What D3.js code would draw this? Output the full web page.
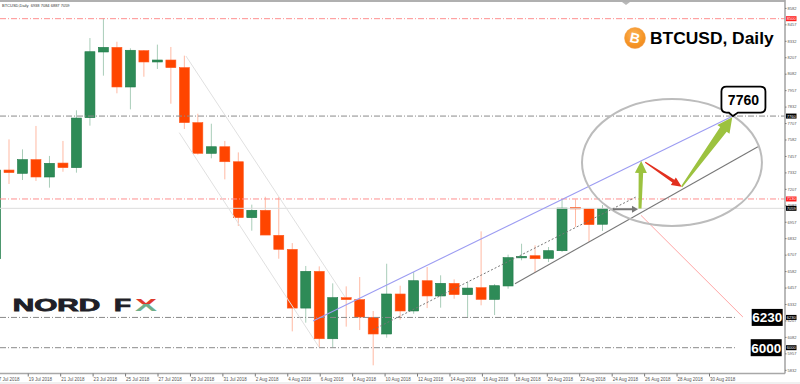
<!DOCTYPE html>
<html><head><meta charset="utf-8">
<script src="https://cdn.jsdelivr.net/npm/d3@7/dist/d3.min.js"></script>
<style>html,body{margin:0;padding:0;background:#fff;overflow:hidden}svg{display:block}</style>
</head><body><svg id="c" width="800" height="384"></svg>
<script>
const symbolText = "BTCUSD,Daily  6938 7084 6887 7059";
const chartTitle = "BTCUSD, Daily";
const barIndex = d3.range(-1, 45);
const opens  = [6676,7350,7325,7429,7297,7403,7368,7748,8247,8282,7981,8257,8171,8186,8128,7710,7477,7527,7413,6988,7044,6854,6747,6301,6580,6068,6380,6365,6231,6104,6408,6279,6509,6393,6489,6403,6456,6367,6469,6684,6699,6679,6737,7066,7056,6938];
const highs  = [7380,7583,7507,7685,7457,7571,7804,8353,8503,8325,8275,8262,8303,8285,8219,7778,7702,7571,7484,7087,7147,7145,6795,6621,6618,6489,6466,6537,6279,6638,6471,6575,6613,6550,6519,6499,6884,6484,6707,6790,6778,6765,7127,7127,7056,7084];
const lows   = [6640,7244,7274,7267,7216,7337,7330,7687,8067,7933,7811,8059,8118,7854,7662,7467,7439,7279,6925,6889,6856,6676,6124,6190,6005,6005,6160,6134,5866,6076,6213,6258,6301,6304,6372,6226,6322,6248,6448,6664,6570,6651,6727,6917,6803,6887];
const closes = [7350,7330,7429,7297,7401,7368,7745,8249,8282,7981,8260,8171,8186,8128,7710,7477,7527,7413,6988,7044,6856,6747,6301,6580,6068,6380,6365,6233,6104,6408,6279,6509,6393,6489,6403,6453,6367,6471,6684,6694,6676,6737,7061,7056,6935,7059];

const priceTicks = [8582,8457,8332,8207,8082,7957,7832,7707,7582,7457,7332,7207,7082,6957,6832,6707,6582,6457,6332,6207,6082,5957,5832];
const dateTicks = ["2018-07-17","2018-07-19","2018-07-21","2018-07-23","2018-07-25","2018-07-27","2018-07-29","2018-07-31","2018-08-02","2018-08-04","2018-08-06","2018-08-08","2018-08-10","2018-08-12","2018-08-14","2018-08-16","2018-08-18","2018-08-20","2018-08-22","2018-08-24","2018-08-26","2018-08-28","2018-08-30"];

const levelPrices = [8500,7760,7130,7059,6230,6000];
const levelKinds  = ["red","gray","red","plain","gray","gray"];
const levelEnds   = [null,null,null,null,53.9,53.9];
const badgeKinds  = ["red","black","red","black","black","black"];

// [bar index, price] pairs
const channelUpper = [[13.12,8216],[24.91,6385]];
const channelLower = [[12.62,7634],[22.98,6005]];
const blueLine   = [[22.54,6203],[53.67,7760]];
const dottedLine = [[27.0,6137],[46.48,7145]];
const trendLine  = [[37.51,6486],[55.52,7527]];
const downLine   = [[46.85,7006],[54.41,6233]];
const grayArrow  = [[44.77,7052],[46.63,7052]];
const greenArrow1 = [[46.78,7058],[46.87,7419]];
const redArrow    = [[47.17,7409],[49.87,7223]];
const greenArrow2 = [[49.87,7223],[53.62,7751]];
const ellipseCentre = [49.15,7407];
const ellipseEdge = [55.82,6925];
const targetLabel = "7760";
const supportLabels = ["6230","6000"];

const svg = d3.select("#c");
const W = 800, H = 384, plotR = 785, plotB = 373.5;
const x = d3.scaleLinear().domain([0,44]).range([9,602.5]);
const y = d3.scaleLinear().domain([8642,5832]).range([0,369.8]);
const parse = d3.utcParse("%Y-%m-%d");
const fmt = d3.utcFormat("%-d %b %Y");
const xDate = d3.scaleUtc().domain([parse(dateTicks[0]),parse(dateTicks[22])]).range([-4.7,709]);

const defs = svg.append("defs");
defs.append("clipPath").attr("id","plot").append("rect").attr("width",plotR).attr("height",plotB);
const rg = defs.append("radialGradient").attr("id","coin").attr("cx","45%").attr("cy","35%").attr("r","70%");
rg.append("stop").attr("offset","0").attr("stop-color","#fbb45c");
rg.append("stop").attr("offset","0.7").attr("stop-color","#f59322");
rg.append("stop").attr("offset","1").attr("stop-color","#ee8a2a");
const xg = defs.append("linearGradient").attr("id","xmark").attr("x1",0).attr("y1",0).attr("x2",0).attr("y2",1);
xg.append("stop").attr("offset","0.46").attr("stop-color","#de3a2c");
xg.append("stop").attr("offset","0.46").attr("stop-color","#6fae8a");

svg.append("rect").attr("width",W).attr("height",H).attr("fill","#fff");
svg.append("rect").attr("y",382).attr("width",W).attr("height",2).attr("fill","#f0f0f0");

const plot = svg.append("g").attr("clip-path","url(#plot)");

// candles
const candles = barIndex.map((i,k)=>({i,o:opens[k],h:highs[k],l:lows[k],c:closes[k]}));
const up = d=>d.c>=d.o;
const cg = plot.append("g");
cg.selectAll("line.w").data(candles).join("line").attr("class","w")
  .attr("x1",d=>x(d.i)).attr("x2",d=>x(d.i)).attr("y1",d=>y(d.h)).attr("y2",d=>y(d.l))
  .attr("stroke",d=>up(d)?"#a9cdb9":"#ffb9a3").attr("stroke-width",1);
cg.selectAll("rect.b").data(candles).join("rect").attr("class","b")
  .attr("x",d=>x(d.i)-5).attr("width",10)
  .attr("y",d=>y(Math.max(d.o,d.c))).attr("height",d=>Math.max(1.5,Math.abs(y(d.o)-y(d.c))))
  .attr("fill",d=>up(d)?"#2e8b57":"#ff4500")
  .attr("stroke",d=>up(d)?"#1f7a48":"#ff5a20").attr("stroke-width",0.6);

// levels
const levelColor = {red:"#ff8f8f",gray:"#8a8a8a",plain:"#dcdcdc"};
plot.selectAll("line.lv").data(levelPrices).join("line").attr("class","lv")
  .attr("x1",0).attr("x2",(d,k)=>levelEnds[k]===null?plotR:x(levelEnds[k]))
  .attr("y1",d=>y(d)).attr("y2",d=>y(d))
  .attr("stroke",(d,k)=>levelColor[levelKinds[k]]).attr("stroke-width",1)
  .attr("stroke-dasharray",(d,k)=>levelKinds[k]==="plain"?null:"6,2,1,2");

// trend lines
function seg(p,color,w,dash){
  plot.append("line").attr("x1",x(p[0][0])).attr("y1",y(p[0][1])).attr("x2",x(p[1][0])).attr("y2",y(p[1][1]))
    .attr("stroke",color).attr("stroke-width",w).attr("stroke-dasharray",dash||null);
}
seg(channelUpper,"#e0e0e0",1);
seg(channelLower,"#e0e0e0",1);
seg(blueLine,"#9c9cf2",1.1);
seg(dottedLine,"#777",1,"2,2");
seg(trendLine,"#777",1.1);
seg(downLine,"#ffa5a5",1);

// ellipse
plot.append("ellipse").attr("cx",x(ellipseCentre[0])).attr("cy",y(ellipseCentre[1]))
  .attr("rx",x(ellipseEdge[0])-x(ellipseCentre[0])).attr("ry",y(ellipseEdge[1])-y(ellipseCentre[1]))
  .attr("fill","none").attr("stroke","#bcbcbc").attr("stroke-width",2);

// arrows
function arrow(p,color,w0,w1,hw,hl){
  const x0=x(p[0][0]),y0=y(p[0][1]),x1=x(p[1][0]),y1=y(p[1][1]);
  const L=Math.hypot(x1-x0,y1-y0),ux=(x1-x0)/L,uy=(y1-y0)/L,nx=-uy,ny=ux;
  const bx=x1-ux*hl,by=y1-uy*hl;
  const pts=[[x0+nx*w0/2,y0+ny*w0/2],[bx+nx*w1/2,by+ny*w1/2],[bx+nx*hw/2,by+ny*hw/2],[x1,y1],
             [bx-nx*hw/2,by-ny*hw/2],[bx-nx*w1/2,by-ny*w1/2],[x0-nx*w0/2,y0-ny*w0/2]];
  plot.append("path").attr("d",d3.line()(pts)+"Z").attr("fill",color);
}
arrow(grayArrow,"#777",2,2,7,6);
arrow(greenArrow1,"#9cc23f",3,4.5,12,12);
arrow(redArrow,"#e2301f",1.2,3.5,9,10);
arrow(greenArrow2,"#9cc23f",1.5,8,15,15);

// frame top
svg.append("rect").attr("width",plotR).attr("height",2).attr("fill","#b0b0b0");
svg.append("path").attr("d",d3.line()([[622,2],[630,2],[626,5]])+"Z").attr("fill","#b8b8b8");

// axes
const yAxis = d3.axisRight(y).tickValues(priceTicks).tickSize(1.5).tickPadding(1).tickFormat(d3.format("d"));
const ya = svg.append("g").attr("transform",`translate(${plotR},0)`).call(yAxis);
ya.select(".domain").attr("d",`M0,0V${plotB}`).attr("stroke","#a8a8a8").attr("stroke-width",1.6);
ya.selectAll(".tick line").attr("stroke","#777");
ya.selectAll("text").attr("font-family","Liberation Sans").attr("font-size",4).attr("fill","#555");

const xAxis = d3.axisBottom(xDate).tickValues(dateTicks.map(parse)).tickSize(3).tickPadding(1).tickFormat(fmt);
const xa = svg.append("g").attr("transform",`translate(0,${plotB})`).call(xAxis);
xa.select(".domain").attr("d",`M0,0H${plotR}`).attr("stroke","#a8a8a8").attr("stroke-width",1.6);
xa.selectAll(".tick line").attr("stroke","#777");
xa.selectAll("text").attr("text-anchor","start").attr("dx",0.5).attr("font-family","Liberation Sans").attr("font-size",4.5).attr("fill","#555");

// price badges
const badges = svg.append("g").selectAll("g").data(levelPrices).join("g")
  .attr("transform",d=>`translate(${plotR+1},${y(d)})`);
badges.append("rect").attr("x",0).attr("y",-2.5).attr("width",10.5).attr("height",5)
  .attr("fill",(d,k)=>badgeKinds[k]==="red"?"#ff2020":"#000");
badges.append("text").attr("x",5.2).attr("y",1.5).attr("text-anchor","middle")
  .attr("font-family","Liberation Sans").attr("font-size",4).attr("fill","#fff").text(d=>d);

// info text
svg.append("text").attr("x",2).attr("y",7).attr("font-family","Liberation Sans").attr("font-size",4)
  .attr("fill","#333").attr("xml:space","preserve").text(symbolText);

// title + coin
svg.append("circle").attr("cx",635).attr("cy",38).attr("r",10.5).attr("fill","url(#coin)").attr("stroke","#f3a04a").attr("stroke-width",.5);
svg.append("text").attr("x",635).attr("y",43).attr("text-anchor","middle").attr("transform","rotate(12 635 38)")
  .attr("font-family","Liberation Sans").attr("font-weight","bold").attr("font-size",14).attr("fill","#fff").text("B");
svg.append("text").attr("x",650).attr("y",44).attr("font-family","Liberation Sans").attr("font-weight","bold")
  .attr("font-size",17.4).attr("fill","#000").text(chartTitle);

// callout
const ax = x(blueLine[1][0]), ay = y(blueLine[1][1]);
const bx0 = ax-11.5, bx1 = ax+32.5, by0 = ay-29.5, by1 = ay-3.5, r = 5;
svg.append("path").attr("d",`M${bx0+r},${by0}H${bx1-r}Q${bx1},${by0} ${bx1},${by0+r}V${by1-r}Q${bx1},${by1} ${bx1-r},${by1}H${ax+5}L${ax},${ay}L${ax-4},${by1}H${bx0+r}Q${bx0},${by1} ${bx0},${by1-r}V${by0+r}Q${bx0},${by0} ${bx0+r},${by0}Z`)
  .attr("fill","#fff").attr("stroke","#000").attr("stroke-width",1.8);
svg.append("text").attr("x",(bx0+bx1)/2).attr("y",(by0+by1)/2+5).attr("text-anchor","middle")
  .attr("font-family","Liberation Sans").attr("font-weight","bold").attr("font-size",14).attr("fill","#000").text(targetLabel);

// support labels
const sup = svg.append("g").selectAll("g").data(supportLabels).join("g")
  .attr("transform",(d,k)=>`translate(${k===0?751.7:750.7},${y(+d)})`);
sup.append("rect").attr("y",-8.5).attr("width",31).attr("height",17).attr("fill","#000");
sup.append("text").attr("x",15.5).attr("y",5).attr("text-anchor","middle").attr("font-family","Liberation Sans")
  .attr("font-weight","bold").attr("font-size",13.5).attr("fill","#fff").text(d=>d);

// logo
const logo = svg.append("g").attr("font-family","Liberation Sans").attr("font-weight","bold").attr("font-size",16.2);
logo.append("text").attr("x",12.7).attr("y",311).attr("textLength",87.5).attr("lengthAdjust","spacingAndGlyphs")
  .attr("fill","#1f1f28").attr("stroke","#1f1f28").attr("stroke-width",.8).text("NORD");
logo.append("text").attr("x",114).attr("y",311).attr("textLength",17).attr("lengthAdjust","spacingAndGlyphs")
  .attr("fill","#1f1f28").attr("stroke","#1f1f28").attr("stroke-width",.8).text("F");
logo.append("text").attr("x",135).attr("y",311).attr("textLength",22).attr("lengthAdjust","spacingAndGlyphs")
  .attr("fill","url(#xmark)").text("X");
</script></body></html>
